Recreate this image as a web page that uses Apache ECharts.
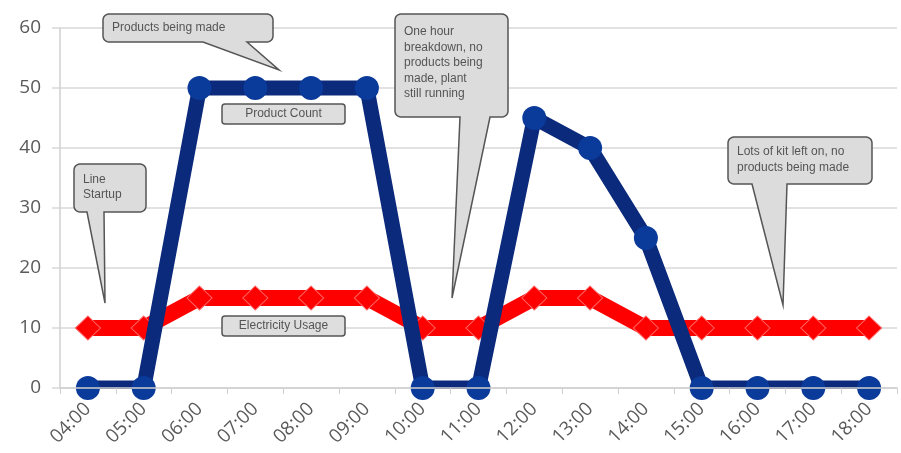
<!DOCTYPE html>
<html><head><meta charset="utf-8">
<script src="https://cdn.jsdelivr.net/npm/echarts@6/dist/echarts.min.js"></script>
<style>html,body{margin:0;padding:0;background:#fff}#c{width:901px;height:453px}</style>
</head><body><div id="c"></div>
<script>
const categories = ['04:00','05:00','06:00','07:00','08:00','09:00','10:00','11:00','12:00','13:00','14:00','15:00','16:00','17:00','18:00'];
const productCount = [0,0,50,50,50,50,0,0,45,40,25,0,0,0,0];
const electricityUsage = [10,10,15,15,15,15,10,10,15,15,10,10,10,10,10];
const yTicks = {min:0, max:60, interval:10};

const FONT = '"Liberation Sans Narrow","Liberation Sans",Arial,sans-serif';
function arc(pts,cx,cy,r,a0,a1){
  for(let i=0;i<=6;i++){const a=a0+(a1-a0)*i/6;pts.push([cx+r*Math.cos(a),cy+r*Math.sin(a)]);}
}
function calloutPoints(x,y,w,h,r,b1,b2,tx,ty){
  const p=[];const P=Math.PI;
  arc(p,x+r,y+r,r,P,1.5*P);
  arc(p,x+w-r,y+r,r,1.5*P,2*P);
  arc(p,x+w-r,y+h-r,r,0,0.5*P);
  p.push([b2,y+h]);p.push([tx,ty]);p.push([b1,y+h]);
  arc(p,x+r,y+h-r,r,0.5*P,P);
  return p;
}
function callout(x,y,w,h,b1,b2,tx,ty,lines,ty0,lh){
  const els=[{type:'polygon',z:100,shape:{points:calloutPoints(x,y,w,h,6,b1,b2,tx,ty)},
    style:{fill:'#dcdcdc',stroke:'#555',lineWidth:1.5}}];
  lines.forEach((t,i)=>els.push({type:'text',z:101,x:x+9,y:ty0+i*lh,
    style:{text:t,fill:'#555',font:'12px '+FONT,verticalAlign:'middle'}}));
  return els;
}
function labelBox(x,y,w,h,t){
  return [{type:'rect',z:100,shape:{x:x,y:y,width:w,height:h,r:3},style:{fill:'#dedede',stroke:'#555',lineWidth:1.5}},
    {type:'text',z:101,x:x+w/2,y:y+h/2,style:{text:t,fill:'#555',font:'12px '+FONT,align:'center',verticalAlign:'middle'}}];
}
const GRID = {left:60,right:4,top:28,bottom:65};
const graphics = [].concat(
  // white mask emulating plot-area clipping of the thick line below the x axis
  [{type:'rect',z:3,silent:true,shape:{x:GRID.left+1,y:453-GRID.bottom+1,width:901-GRID.left-GRID.right-1,height:9},style:{fill:'#fff'}}],
  callout(103,14,170,28,203,247,279,70,['Products being made'],28,15),
  callout(74,164,72,48,87,104,105,303,['Line','Startup'],180,15),
  callout(395,14,113,103,460,490,452,298,['One hour','breakdown, no','products being','made, plant','still running'],32,15.4),
  callout(728,137,144,47,752,787,783,305,['Lots of kit left on, no','products being made'],152,16),
  labelBox(222,104,123,20,'Product Count'),
  labelBox(222,316,123,20,'Electricity Usage')
);

const chart = echarts.init(document.getElementById('c'));
chart.setOption({
  animation:false,
  grid:GRID,
  xAxis:{type:'category',data:categories,boundaryGap:true,z:5,
    axisLine:{lineStyle:{color:'#cfcfcf',width:1.5}},
    axisTick:{show:true,length:6,lineStyle:{color:'#cfcfcf'}},
    axisLabel:{rotate:45,fontSize:19,color:'#5a5a5a',margin:18,fontFamily:'"Open Sans",sans-serif'}},
  yAxis:{type:'value',min:yTicks.min,max:yTicks.max,interval:yTicks.interval,
    axisLine:{show:true,lineStyle:{color:'#cfcfcf',width:1.5}},
    axisTick:{show:true,length:8,lineStyle:{color:'#d9d9d9',width:1.5}},
    splitLine:{lineStyle:{color:'#d9d9d9',width:1.5}},
    axisLabel:{fontSize:19,color:'#5a5a5a',margin:19,fontFamily:'"Open Sans",sans-serif'}},
  series:[
    {name:'Electricity Usage',type:'line',data:electricityUsage,z:1,
      symbol:'diamond',symbolSize:[25,24],
      lineStyle:{color:'#ff0000',width:16},
      itemStyle:{color:'#ff0000',borderColor:'#ff6a6a',borderWidth:1}},
    {name:'Product Count',type:'line',data:productCount,z:2,
      symbol:'none',
      lineStyle:{color:'#0b2a7c',width:15}},
    {name:'Product Count',type:'scatter',data:productCount,z:4,
      symbol:'circle',symbolSize:24,
      itemStyle:{color:'#0a3a9a',opacity:1}}
  ],
  graphic:graphics
});
</script></body></html>
